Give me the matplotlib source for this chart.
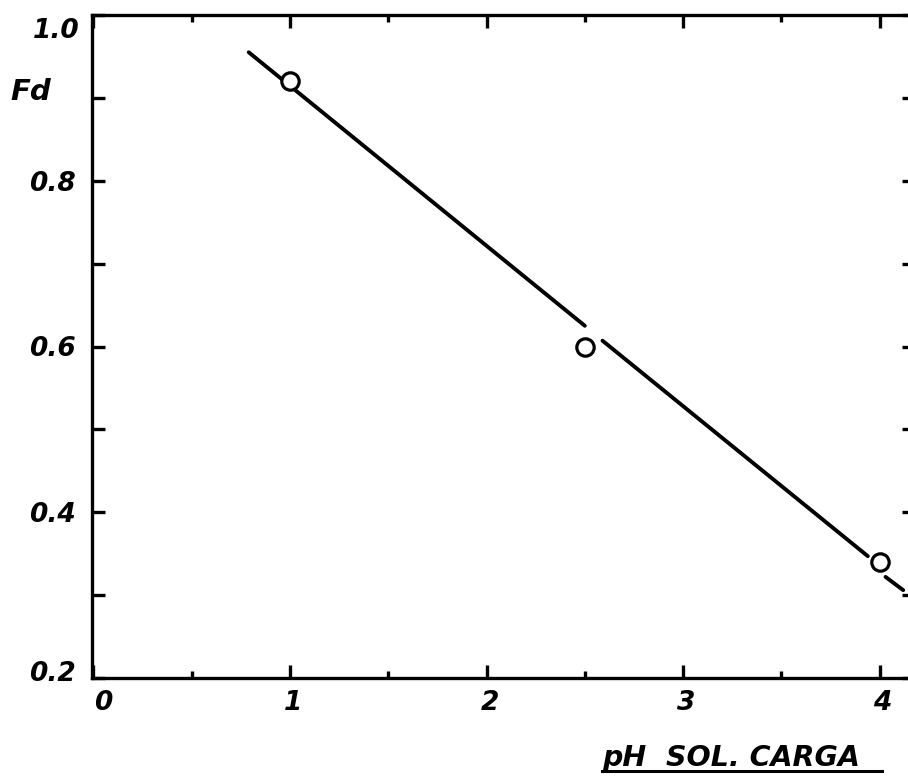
import numpy as np
import matplotlib
matplotlib.use("Agg")
import matplotlib.pyplot as plt
from matplotlib.lines import Line2D
from matplotlib.ticker import MultipleLocator, FixedLocator
from matplotlib.transforms import ScaledTranslation

# ---- data ----
pts_x = [1.0, 2.5, 4.0]
pts_y = [0.92, 0.60, 0.34]

# hand-drawn straight line, drawn in pieces with gaps around the markers
fit_x = [0.79, 2.50, np.nan, 2.59, 3.94, np.nan, 4.03, 4.12]
fit_y = [0.955, 0.625, np.nan, 0.607, 0.347, np.nan, 0.322, 0.306]

x_ticks = [0, 1, 2, 3, 4]
x_ticklabels = ["0", "1", "2", "3", "4"]
y_ticks = [0.2, 0.4, 0.6, 0.8, 1.0]
y_ticklabels = ["0.2", "0.4", "0.6", "0.8", "1.0"]
y_label = "Fd"
x_label = "pH  SOL. CARGA"

W, H = 908, 776
fig = plt.figure(figsize=(W / 100, H / 100), dpi=100)
ax = fig.add_axes([92 / W, 1 - 678 / H, (915 - 92) / W, (678 - 15) / H])

ax.set_xlim(-0.0076, 4.18)
ax.set_ylim(0.2, 1.0)

lw = 2.4
ax.plot(fit_x, fit_y, color="black", lw=2.8, solid_capstyle="round", zorder=2)
ax.plot(pts_x, pts_y, linestyle="none", marker="o", markersize=12.5,
        markerfacecolor="white", markeredgecolor="black", markeredgewidth=2.3,
        zorder=3)

for s in ax.spines.values():
    s.set_linewidth(lw)

ax.xaxis.set_major_locator(FixedLocator(x_ticks))
ax.set_xticklabels(x_ticklabels)
ax.xaxis.set_minor_locator(MultipleLocator(0.5))
ax.yaxis.set_major_locator(FixedLocator(y_ticks))
ax.set_yticklabels(y_ticklabels)
ax.yaxis.set_minor_locator(MultipleLocator(0.1))

ax.tick_params(axis="x", which="major", direction="in", top=True, bottom=True,
               length=9.5, width=lw, pad=9)
ax.tick_params(axis="x", which="minor", direction="in", top=True, bottom=True,
               length=5, width=lw)
ax.tick_params(axis="y", which="both", direction="in", left=True, right=True,
               length=9.5, width=lw, pad=12)

for lab in ax.get_xticklabels() + ax.get_yticklabels():
    lab.set_fontsize(19)
    lab.set_fontweight("bold")
    lab.set_fontstyle("italic")

# small hand-lettering offsets
def shift(label, dx_px, dy_px):
    label.set_transform(label.get_transform()
                        + ScaledTranslation(dx_px / 100, dy_px / 100, fig.dpi_scale_trans))

xl = ax.get_xticklabels()
yl = ax.get_yticklabels()
shift(xl[0], 10, 0)
for l in xl[1:]:
    shift(l, 3, 0)
shift(yl[0], 0, 7)
shift(yl[-1], 4, -13)

fig.text(31 / W, 1 - 92 / H, y_label, ha="center", va="center",
         fontsize=21, fontweight="bold", fontstyle="italic")

fig.text(602 / W, 1 - 758 / H, x_label, ha="left", va="center",
         fontsize=20.5, fontweight="bold", fontstyle="italic")
fig.add_artist(Line2D([602 / W, 882 / W], [1 - 771 / H, 1 - 771 / H],
                      color="black", lw=2.2))

fig.savefig("out.png", dpi=100)
